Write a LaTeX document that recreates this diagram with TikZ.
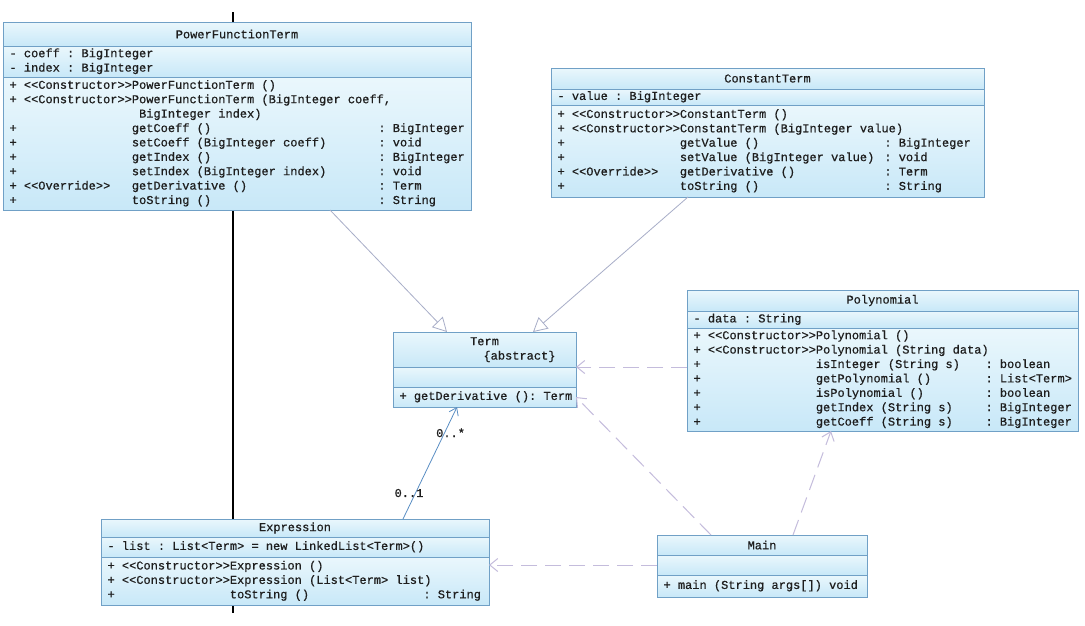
\documentclass[tikz,border=0pt]{standalone}
\usepackage{fontspec}
\setmonofont{Liberation Mono}[FakeBold=0.6]
\usetikzlibrary{arrows.meta, positioning, calc}
\definecolor{umlline}{RGB}{112,160,198}
\definecolor{umltop}{RGB}{234,247,252}
\definecolor{umlbot}{RGB}{200,232,248}
\definecolor{umltext}{RGB}{30,30,30}
\definecolor{genline}{RGB}{168,174,200}
\definecolor{depline}{RGB}{196,188,220}
\definecolor{assocline}{RGB}{90,142,196}
\newcommand{\umlfont}{\ttfamily\fontsize{12}{14.4}\selectfont}
\newcommand{\mrow}[3]{\mbox{\strut\makebox[122.4pt][l]{#1}\makebox[\retw][l]{#2}#3}}
\newcommand{\arow}[1]{\mbox{\strut#1}}

\begin{document}
\begin{tikzpicture}[
        x=1pt, y=-1pt,
        umlbox/.style={draw=umlline, line width=0.8pt, top color=umltop, bottom color=umlbot, font=\umlfont, text=umltext, inner xsep=6.5pt, inner ysep=0pt, outer sep=0pt, text width=#1, anchor=north},
        classhead/.style={umlbox=#1, align=flush center},
        classpart/.style={umlbox=#1, align=flush left},
        retcol/.code={\def\retw{#1}},
        generalize/.style={genline, line width=0.8pt, -{Triangle[length=14pt, width=15pt, fill=white]}},
        depend/.style={depline, line width=1pt, dash pattern=on 16pt off 8pt, -{Straight Barb[length=8pt, width=13pt]}},
        assoc/.style={assocline, line width=0.8pt, -{Straight Barb[length=7pt, width=10pt]}},
        mult/.style={font=\umlfont, text=umltext, inner sep=1pt}
    ]
        \fill[white] (0,0) rectangle (1085,625);
        \useasboundingbox (0,0) rectangle (1085,625);
        \draw[black, line width=1.2pt] (233,12) -- (233,613);

        % PowerFunctionTerm
        \node[classhead=455pt, minimum height=24pt] (pftt) at (237,22) {PowerFunctionTerm};
        \node[classpart=455pt, minimum height=31pt, below=0pt of pftt] (pfta) {\arow{- coeff : BigInteger}\\\arow{- index : BigInteger}};
        \node[classpart=455pt, minimum height=133pt, below=0pt of pfta, retcol=246.5pt] (pftm) {%
            \mrow{+ <<Constructor>>}{PowerFunctionTerm ()}{}\\
            \mrow{+ <<Constructor>>}{PowerFunctionTerm (BigInteger coeff,}{}\\
            \mrow{}{\hspace*{7.2pt}BigInteger index)}{}\\
            \mrow{+}{getCoeff ()}{: BigInteger}\\
            \mrow{+}{setCoeff (BigInteger coeff)}{: void}\\
            \mrow{+}{getIndex ()}{: BigInteger}\\
            \mrow{+}{setIndex (BigInteger index)}{: void}\\
            \mrow{+ <<Override>>}{getDerivative ()}{: Term}\\
            \mrow{+}{toString ()}{: String}};

        % ConstantTerm
        \node[classhead=420pt, minimum height=21pt] (ctt) at (767.5,68) {ConstantTerm};
        \node[classpart=420pt, minimum height=16pt, below=0pt of ctt] (cta) {\arow{- value : BigInteger}};
        \node[classpart=420pt, minimum height=92pt, below=0pt of cta, retcol=204.5pt] (ctm) {%
            \mrow{+ <<Constructor>>}{ConstantTerm ()}{}\\
            \mrow{+ <<Constructor>>}{ConstantTerm (BigInteger value)}{}\\
            \mrow{+}{getValue ()}{: BigInteger}\\
            \mrow{+}{setValue (BigInteger value)}{: void}\\
            \mrow{+ <<Override>>}{getDerivative ()}{: Term}\\
            \mrow{+}{toString ()}{: String}};

        % Term
        \node[classhead=170pt, minimum height=35pt] (termt) at (484.5,332) {\arow{Term}\\\arow{\hspace*{70pt}\{abstract\}}};
        \node[classpart=170pt, minimum height=20pt, below=0pt of termt] (terma) {};
        \node[classpart=170pt, minimum height=20pt, below=0pt of terma] (termm) {\arow{+ getDerivative (): Term}};

        % Polynomial
        \node[classhead=378pt, minimum height=21pt] (polyt) at (882.5,290) {Polynomial};
        \node[classpart=378pt, minimum height=17pt, below=0pt of polyt] (polya) {\arow{- data : String}};
        \node[classpart=378pt, minimum height=103pt, below=0pt of polya, retcol=169.6pt] (polym) {%
            \mrow{+ <<Constructor>>}{Polynomial ()}{}\\
            \mrow{+ <<Constructor>>}{Polynomial (String data)}{}\\
            \mrow{+}{isInteger (String s)}{: boolean}\\
            \mrow{+}{getPolynomial ()}{: List<Term>}\\
            \mrow{+}{isPolynomial ()}{: boolean}\\
            \mrow{+}{getIndex (String s)}{: BigInteger}\\
            \mrow{+}{getCoeff (String s)}{: BigInteger}};

        % Expression
        \node[classhead=375pt, minimum height=18pt] (exprt) at (295,519) {Expression};
        \node[classpart=375pt, minimum height=20pt, below=0pt of exprt] (expra) {\arow{- list : List<Term> = new LinkedList<Term>()}};
        \node[classpart=375pt, minimum height=48pt, below=0pt of expra, retcol=193.5pt] (exprm) {%
            \mrow{+ <<Constructor>>}{Expression ()}{}\\
            \mrow{+ <<Constructor>>}{Expression (List<Term> list)}{}\\
            \mrow{+}{toString ()}{: String}};

        % Main
        \node[classhead=197pt, minimum height=20pt] (maint) at (762,535) {Main};
        \node[classpart=197pt, minimum height=20pt, below=0pt of maint] (maina) {};
        \node[classpart=197pt, minimum height=22pt, below=0pt of maina] (mainm) {\arow{+ main (String args[]) void}};

        % relations
        \draw[generalize] ($(pftm.south west)+(327,0)$) -- ($(termt.north west)+(54,0)$);
        \draw[generalize] ($(ctm.south west)+(137,0)$) -- ($(termt.north west)+(140,0)$);
        \draw[depend] ($(polym.north west)+(0,39)$) -- (termt.south east);
        \draw[depend] ($(maint.north west)+(54,0)$) -- (termm.east);
        \draw[depend] ($(maint.north west)+(136,0)$) -- ($(polym.south west)+(144,0)$);
        \draw[depend] (maina.west) -- ($(exprm.north east)+(0,8)$);
        \draw[assoc] ($(exprt.north west)+(302,0)$) -- 
            node[mult, pos=0.232, xshift=-6.5pt] {0..1}
            node[mult, pos=0.77, xshift=6pt] {0..*}
            ($(termm.south west)+(64,0)$);
    \end{tikzpicture}
\end{document}
